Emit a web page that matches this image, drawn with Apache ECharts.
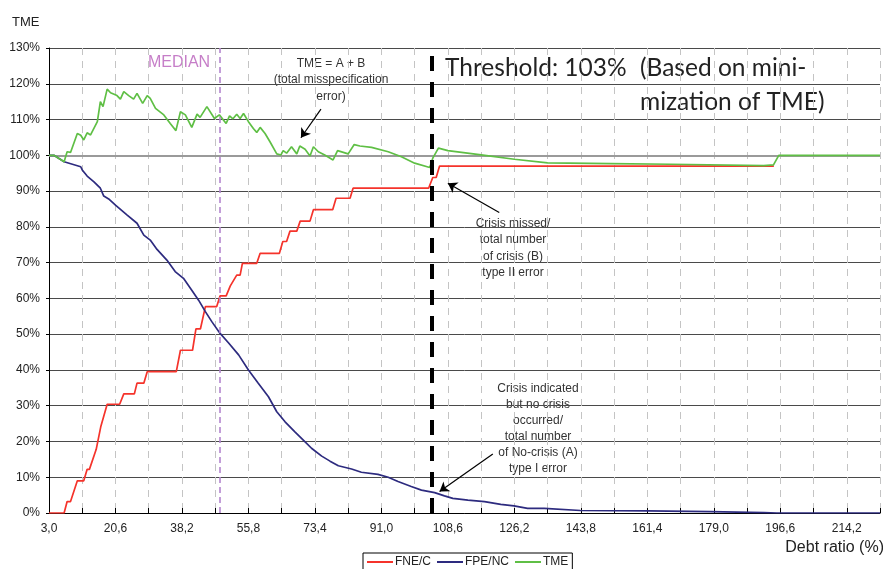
<!DOCTYPE html>
<html>
<head>
<meta charset="utf-8">
<script src="https://cdn.jsdelivr.net/npm/echarts@6/dist/echarts.min.js"></script>
<style>
  html, body { margin: 0; padding: 0; background: #fff; }
  #chart { width: 883px; height: 569px; }
</style>
</head>
<body>
<div id="chart"></div>
<script>
// ---------- data ----------
const seriesNames = ['FNE/C', 'FPE/NC', 'TME'];

// FNE/C : crisis missed / total number of crisis (type II error), %
const fneX = [3.0, 7.0, 7.8, 8.7, 10.5, 12.2, 13.1, 13.7, 15.5, 16.7, 17.1, 18.4, 21.7, 22.8, 25.6, 26.3, 28.1, 29.0, 36.7, 37.8, 41.0, 41.9, 43.1, 44.4, 47.4, 48.3, 49.9, 51.0, 51.4, 52.7, 53.6, 54.2, 58.0, 58.9, 64.0, 64.9, 65.9, 66.8, 68.6, 69.5, 72.1, 73.0, 78.1, 79.0, 82.7, 83.5, 103.5, 104.6, 105.5, 106.4, 194.9];
const fneY = [0, 0, 3.2, 3.2, 9.0, 9.0, 12.2, 12.2, 17.8, 24.1, 24.1, 30.4, 30.4, 33.3, 33.3, 36.3, 36.3, 39.5, 39.5, 45.5, 45.5, 51.5, 51.5, 57.7, 57.7, 60.7, 60.7, 63.5, 63.5, 66.5, 66.5, 69.8, 69.8, 72.6, 72.6, 75.9, 75.9, 78.8, 78.8, 81.6, 81.6, 84.8, 84.8, 88.0, 88.0, 90.8, 90.8, 93.8, 93.8, 97.0, 97.0];

// FPE/NC : crisis indicated but no crisis / total number of no-crisis (type I error), %
const fpeX = [3.0, 4.3, 7.0, 11.4, 11.8, 13.1, 14.9, 16.6, 17.5, 18.8, 20.6, 23.7, 26.3, 28.1, 29.8, 31.6, 34.2, 36.4, 38.6, 40.8, 42.6, 44.4, 46.1, 48.3, 50.5, 53.2, 55.8, 58.4, 61.1, 63.3, 65.5, 68.1, 70.8, 72.5, 75.2, 77.4, 79.6, 83.1, 85.7, 90.1, 92.8, 95.4, 98.9, 101.6, 105.1, 107.7, 109.9, 113.9, 118.3, 122.6, 126.1, 129.7, 134.1, 143.7, 161.4, 178.0, 192.3, 195.7, 223.0];
const fpeY = [100, 100, 98.2, 96.8, 95.9, 94.2, 92.6, 90.8, 88.6, 87.8, 86.1, 83.3, 81.0, 77.7, 76.3, 73.7, 70.7, 67.5, 65.6, 62.3, 59.5, 56.3, 53.5, 50.2, 47.6, 44.2, 40.0, 36.3, 32.5, 28.3, 25.5, 22.7, 19.9, 18.1, 15.9, 14.5, 13.2, 12.3, 11.4, 10.8, 10.0, 8.8, 7.4, 6.4, 5.7, 4.8, 4.1, 3.6, 3.2, 2.4, 2.0, 1.3, 1.3, 0.7, 0.6, 0.4, 0.1, 0, 0];

// TME : total misspecification error = A + B, %
const tmeX = [3.0, 4.3, 7.0, 7.8, 8.7, 10.5, 11.4, 12.2, 13.1, 14.0, 15.8, 16.6, 17.3, 18.4, 19.3, 21.0, 21.9, 22.8, 24.1, 25.4, 26.3, 27.8, 29.0, 29.8, 31.2, 33.4, 35.1, 36.6, 37.8, 39.1, 40.8, 42.2, 43.0, 44.8, 46.8, 48.1, 49.9, 50.8, 51.7, 52.7, 53.6, 54.5, 55.8, 57.1, 58.0, 58.9, 60.2, 61.5, 63.3, 64.4, 65.0, 65.9, 67.2, 68.6, 69.4, 70.8, 72.1, 73.0, 74.3, 76.0, 78.2, 79.4, 82.2, 83.8, 85.3, 88.4, 92.8, 96.3, 99.8, 103.8, 104.6, 106.1, 108.6, 117.4, 126.2, 135.0, 151.7, 167.6, 192.2, 194.8, 196.2, 223.0];
const tmeY = [100, 100, 98.2, 101.0, 100.8, 106.1, 105.6, 104.3, 106.3, 105.7, 109.4, 115.0, 113.6, 118.5, 117.5, 116.7, 115.7, 117.8, 116.7, 115.7, 117.3, 114.5, 116.7, 115.9, 113.1, 111.3, 108.9, 106.9, 112.2, 111.3, 107.8, 111.5, 110.6, 113.6, 110.3, 111.3, 108.9, 111.0, 110.2, 111.5, 110.3, 111.7, 109.4, 107.5, 106.4, 107.8, 106.1, 103.8, 100.4, 100.1, 101.3, 100.6, 102.4, 100.4, 102.6, 101.7, 99.8, 102.4, 101.0, 100.1, 98.7, 101.3, 100.4, 103.0, 102.6, 102.2, 101.0, 99.6, 97.8, 96.6, 99.2, 102.0, 101.3, 100.1, 98.9, 97.9, 97.7, 97.5, 97.1, 97.3, 100, 100];

// axis / reference values
const xStart = 3.0;          // first debt-ratio category
const xEnd = 223.0;          // right edge of the plot
const xStep = 8.8;           // tick step (labels every second tick)
const yTicks = [0, 10, 20, 30, 40, 50, 60, 70, 80, 90, 100, 110, 120, 130];
const refLevel = 100;        // 100 % reference line
const medianX = 48.3;        // median debt ratio
const thresholdX = 104.2;    // threshold line (103 %)

// annotation arrows: [fromX, fromY, toX, toY] in data units
const arrowTME = [75.0, 112.9, 69.7, 104.9];
const arrowB = [122.2, 84.0, 108.6, 92.2];
const arrowA = [120.5, 16.5, 106.4, 6.0];

// ---------- build ----------
const sx = v => v - xStart; // axis runs from 0 so ticks align with 3,0 ; 11,8 ; ...
const zip = (xs, ys) => xs.map((x, i) => [sx(x), ys[i]]);

const colors = { fne: '#f5332b', fpe: '#2d2b7f', tme: '#5fbf45' };
const baseFont = 'Liberation Sans, Arial, sans-serif';
const bigFont = 'Lato, Open Sans, sans-serif';
const arrowLine = a => [
  { coord: [sx(a[0]), a[1]], symbol: 'none' },
  { coord: [sx(a[2]), a[3]], symbol: 'arrow', symbolSize: 9 }
];

const chart = echarts.init(document.getElementById('chart'), null, { renderer: 'canvas' });

const option = {
  animation: false,
  textStyle: { fontFamily: baseFont },
  grid: { left: 49, right: 0, top: 48, bottom: 56, containLabel: false },
  xAxis: {
    type: 'value',
    min: 0,
    max: sx(xEnd),
    interval: xStep,
    axisLine: { show: true, lineStyle: { color: '#000', width: 1 } },
    axisTick: { show: true, inside: true, length: 5, lineStyle: { color: '#000' } },
    axisLabel: {
      show: true,
      margin: 10,
      color: '#222',
      fontSize: 12,
      fontFamily: baseFont,
      showMinLabel: true,
      showMaxLabel: true,
      formatter: v => (Math.round(v / xStep) % 2 === 0)
        ? (v + xStart).toFixed(1).replace('.', ',') : ''
    },
    splitLine: { show: true, lineStyle: { color: '#c4c4c4', width: 1, type: [7, 6] } }
  },
  yAxis: {
    type: 'value',
    min: yTicks[0],
    max: yTicks[yTicks.length - 1],
    interval: yTicks[1] - yTicks[0],
    axisLine: { show: true, lineStyle: { color: '#000', width: 1 } },
    axisTick: { show: true, length: 3, lineStyle: { color: '#000' } },
    axisLabel: { margin: 9, color: '#222', fontSize: 12, fontFamily: baseFont, formatter: '{value}%' },
    splitLine: { show: true, lineStyle: { color: '#4a4a4a', width: 1 } }
  },
  legend: {
    data: seriesNames,
    icon: 'rect',
    left: 363,
    top: 553,
    itemWidth: 26,
    itemHeight: 2,
    itemGap: 6,
    padding: [3, 4, 3, 4],
    borderColor: '#000',
    borderWidth: 1,
    backgroundColor: '#fff',
    textStyle: { fontSize: 12, color: '#222', fontFamily: baseFont, padding: [0, 0, 0, -3] }
  },
  series: [
    {
      name: seriesNames[0],
      type: 'line',
      symbol: 'none',
      data: zip(fneX, fneY),
      lineStyle: { color: colors.fne, width: 1.7 },
      itemStyle: { color: colors.fne },
      z: 3,
      markLine: {
        silent: true, z: 1, symbol: 'none', label: { show: false },
        lineStyle: { color: '#9a9a9a', width: 2, type: 'solid' },
        data: [{ yAxis: refLevel }]
      }
    },
    {
      name: seriesNames[1],
      type: 'line',
      symbol: 'none',
      data: zip(fpeX, fpeY),
      lineStyle: { color: colors.fpe, width: 1.7 },
      itemStyle: { color: colors.fpe },
      z: 3,
      markLine: {
        silent: true, z: 6, symbol: 'none', label: { show: false },
        data: [
          { xAxis: sx(medianX), lineStyle: { color: '#b385cf', width: 1.6, type: [6, 4] } },
          { xAxis: sx(thresholdX), lineStyle: { color: '#000', width: 4, type: [15, 11] } }
        ]
      }
    },
    {
      name: seriesNames[2],
      type: 'line',
      symbol: 'none',
      data: zip(tmeX, tmeY),
      lineStyle: { color: colors.tme, width: 1.7 },
      itemStyle: { color: colors.tme },
      z: 4,
      markLine: {
        silent: true, z: 7, label: { show: false },
        lineStyle: { color: '#000', width: 1.2, type: 'solid' },
        data: [arrowLine(arrowTME), arrowLine(arrowB), arrowLine(arrowA)]
      }
    }
  ],
  graphic: [
    { type: 'text', x: 12, y: 22, style: { text: 'TME', fontSize: 13, fontFamily: baseFont, fill: '#222', verticalAlign: 'middle' } },
    { type: 'text', x: 179, y: 63, style: { text: 'MEDIAN', fontSize: 16, fontFamily: baseFont, fill: '#c67ec8', align: 'center', verticalAlign: 'middle' } },
    { type: 'text', x: 331, y: 55, style: { text: 'TME = A + B\n(total misspecification\nerror)', fontSize: 12, lineHeight: 16.5, fontFamily: baseFont, fill: '#333', align: 'center', verticalAlign: 'top' } },
    { type: 'text', x: 445, y: 68, style: { text: 'Threshold: 103%', fontSize: 24.5, fontFamily: bigFont, fill: '#222', verticalAlign: 'middle' } },
    { type: 'text', x: 640, y: 51.5, style: { text: '(Based on mini-\nmization of TME)', fontSize: 24.5, lineHeight: 33.4, fontFamily: bigFont, fill: '#222', verticalAlign: 'top' } },
    { type: 'text', x: 513, y: 215, style: { text: 'Crisis missed/\ntotal number\nof crisis (B)\ntype II error', fontSize: 12, lineHeight: 16.5, fontFamily: baseFont, fill: '#333', align: 'center', verticalAlign: 'top' } },
    { type: 'text', x: 538, y: 381, style: { text: 'Crisis indicated\nbut no crisis\noccurred/\ntotal number\nof No-crisis (A)\ntype I error', fontSize: 12, lineHeight: 16, fontFamily: baseFont, fill: '#333', align: 'center', verticalAlign: 'top' } },
    { type: 'text', x: 884, y: 548, style: { text: 'Debt ratio (%)', fontSize: 16, fontFamily: baseFont, fill: '#222', align: 'right', verticalAlign: 'middle' } }
  ]
};

chart.setOption(option);
</script>
</body>
</html>
